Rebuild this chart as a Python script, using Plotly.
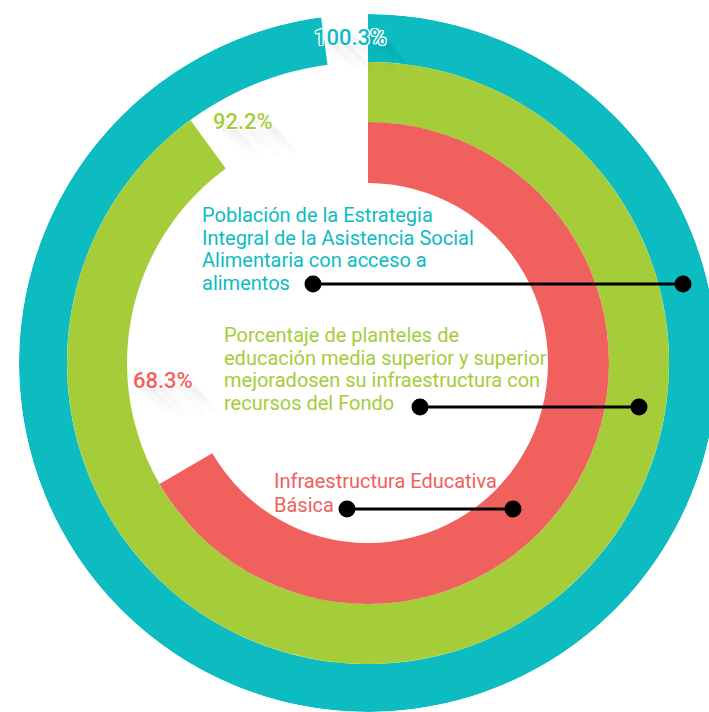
import plotly.graph_objects as go

# ---------------- data ----------------
categories = [
    "Población de la Estrategia Integral de la Asistencia Social Alimentaria con acceso a alimentos",
    "Porcentaje de planteles de educación media superior y superior mejoradosen su infraestructura con recursos del Fondo",
    "Infraestructura Educativa Básica",
]
category_lines = [
    ["Población de la Estrategia", "Integral de la Asistencia Social", "Alimentaria con acceso a", "alimentos"],
    ["Porcentaje de planteles de", "educación media superior y superior", "mejoradosen su infraestructura con", "recursos del Fondo"],
    ["Infraestructura Educativa", "Básica"],
]
values = [100.3, 92.2, 68.3]
value_labels = ["100.3%", "92.2%", "68.3%"]

# ---------------- style ----------------
colors = ["#0CBCC1", "#A5CD3A", "#F0605D"]
ring_inner = [301, 241, 180]
ring_outer = [349, 301, 241]
FULL_CIRCLE_PCT = 102.5          # percent that corresponds to a full turn
DEG_PER_PCT = 360.0 / FULL_CIRCLE_PCT

W, H = 720, 712
CX, CY, R = 368, 363, 349


def px(x):
    return x / W


def py(y):
    return 1 - y / H


sweeps = [v * DEG_PER_PCT for v in values]

fig = go.Figure()
fig.add_trace(go.Barpolar(
    theta=[s / 2 for s in sweeps],
    width=sweeps,
    base=ring_inner,
    r=[o - i for o, i in zip(ring_outer, ring_inner)],
    marker=dict(color=colors, line=dict(width=0)),
    hoverinfo="skip",
    showlegend=False,
))

fig.update_layout(
    width=W, height=H,
    margin=dict(l=0, r=0, t=0, b=0),
    paper_bgcolor="white",
    plot_bgcolor="white",
    showlegend=False,
    polar=dict(
        domain=dict(x=[px(CX - R), px(CX + R)], y=[py(CY + R), py(CY - R)]),
        bgcolor="rgba(0,0,0,0)",
        barmode="overlay",
        radialaxis=dict(range=[0, R], visible=False),
        angularaxis=dict(direction="clockwise", rotation=90, visible=False),
    ),
)

# ------------- percentage labels with outline + long shadow -------------
outline = "1px 1px 0 #fff, -1px -1px 0 #fff, 1px -1px 0 #fff, -1px 1px 0 #fff, 0 1px 0 #fff, 1px 0 0 #fff, 0 -1px 0 #fff, -1px 0 0 #fff"
steps = []
for k in range(2, 46):
    a = 0.016 * (1 - k / 46)
    steps.append(f"{k}px {k}px 3px rgba(80,90,100,{a:.4f})")
shadow = outline + ", " + ", ".join(steps)

label_pos = [(350, 37), (243, 121), (163, 380)]
for txt, (lx, ly), c in zip(value_labels, label_pos, colors):
    fig.add_annotation(
        x=px(lx), y=py(ly), xref="paper", yref="paper",
        text=txt, showarrow=False, xanchor="center", yanchor="middle",
        font=dict(family="Roboto", size=22, color=c, weight=500, shadow=shadow),
    )

# ------------- category text blocks -------------
block_left = [200, 222, 272]
block_baselines = [[222, 245, 267, 290], [342, 365, 387, 410], [488, 512]]
for lines, left, bases, c in zip(category_lines, block_left, block_baselines, colors):
    for line, b in zip(lines, bases):
        fig.add_annotation(
            x=px(left), y=py(b - 7), xref="paper", yref="paper",
            text=line, showarrow=False, xanchor="left", yanchor="middle",
            font=dict(family="Roboto", size=20, color=c),
        )

# ------------- leader lines with dots -------------
leaders = [((313, 284), (683, 284)), ((420, 407), (639, 407)), ((347, 509), (513, 509))]
DOT = 8.5
for (x0, y0), (x1, y1) in leaders:
    fig.add_shape(type="line", xref="paper", yref="paper",
                  x0=px(x0), y0=py(y0), x1=px(x1), y1=py(y1),
                  line=dict(color="black", width=3), layer="above")
    for (cx, cy) in [(x0, y0), (x1, y1)]:
        fig.add_shape(type="circle", xref="paper", yref="paper",
                      x0=px(cx - DOT), x1=px(cx + DOT), y0=py(cy + DOT), y1=py(cy - DOT),
                      fillcolor="black", line=dict(width=0), layer="above")

fig.write_html(
    "out.html",
    config=dict(displayModeBar=False),
    post_script="document.body.style.margin='0';document.body.style.overflow='hidden';",
)
